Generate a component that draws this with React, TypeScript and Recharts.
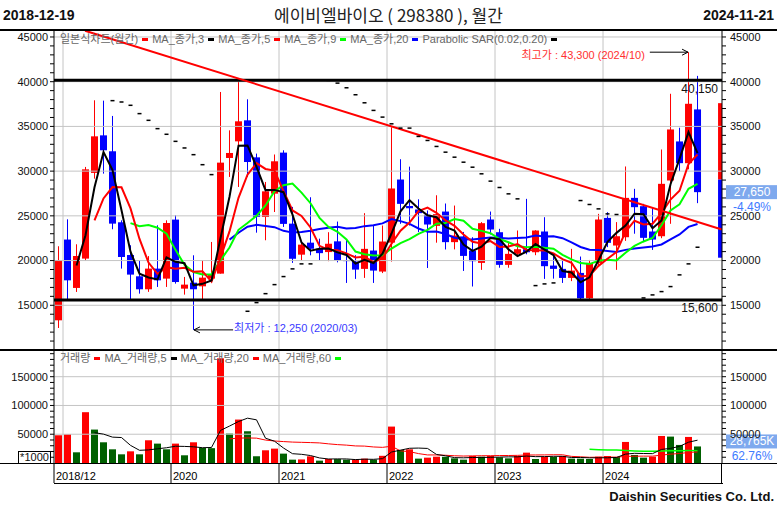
import {
  ComposedChart,
  Bar,
  Line,
  XAxis,
  YAxis,
  ReferenceLine,
  ReferenceArea,
  Cell,
} from "recharts";

const FONT = '"Liberation Sans", Arial, "Noto Sans CJK KR", sans-serif';
const RED = "#ff0000";
const BLUE = "#0000ff";
const VOL_GREEN = "#006000";
const GRID = "#c4c4c4";

// monthly bars 2018/12 .. 2024/11
const months = Array.from({ length: 72 }, (_, i) => {
  const k = 11 + i;
  return `${2018 + Math.floor(k / 12)}/${String((k % 12) + 1).padStart(2, "0")}`;
});

const opens = [
  13320, 22350, 16940, 20220, 29800, 34000, 32220, 24280, 20620, 18240,
  16790, 19100, 17980, 24580, 16860, 17530, 17120, 17980, 18540, 31470,
  33330, 35680, 31540, 24870, 27480, 32070, 24130, 20660, 22000, 21320,
  20950, 22150, 20050, 19890, 19070, 21120, 18770, 22010, 29060, 26100,
  25710, 25110, 23880, 25480, 22060, 22700, 21120, 19740, 24590, 23170,
  19520, 20750, 21270, 20930, 23250, 19440, 19070, 18060, 18620, 15780,
  19740, 24770, 21680, 22610, 27010, 26080, 23250, 22720, 28950, 33320,
  30890, 36900,
];
const highs = [
  21600, 24610, 21820, 30470, 37920, 37880, 36170, 24500, 21710, 20030,
  20500, 23940, 24500, 25060, 18170, 20590, 20030, 22080, 38850, 34560,
  40150, 38030, 31960, 28790, 31860, 32330, 26000, 22080, 27080, 22450,
  23170, 24360, 22300, 20600, 25300, 23990, 23920, 34900, 31330, 30500,
  26850, 25600, 27300, 26380, 26150, 23200, 22610, 24300, 25480, 23550,
  22070, 23360, 26900, 23400, 24850, 20590, 20000, 21310, 20450, 20070,
  25220, 25410, 24300, 30520, 28020, 26340, 25970, 32420, 38650, 34850,
  43300, 40650,
];
const lows = [
  12460, 15670, 16490, 19990, 29160, 29720, 23500, 19100, 15670, 16300,
  16500, 17050, 17050, 17420, 16190, 12250, 15670, 17600, 18540, 29350,
  28230, 29350, 23120, 22270, 25430, 23760, 19740, 20030, 20590, 20030,
  19930, 19800, 17500, 17950, 18060, 17500, 18600, 19890, 24110, 23920,
  23180, 19170, 22000, 21240, 21250, 18840, 17100, 18960, 22910, 19200,
  19200, 20500, 20700, 20600, 17950, 17980, 17500, 17700, 15600, 15600,
  19500, 21500, 18960, 22200, 23000, 22050, 21190, 22500, 24110, 30000,
  30200, 26420,
];
const closes = [
  20030, 17790, 20510, 30200, 33890, 32330, 24130, 20400, 18430, 16790,
  19100, 17790, 24200, 17600, 17310, 16790, 18090, 18430, 30950, 32030,
  35570, 31020, 24870, 27740, 31100, 24100, 20200, 21780, 21320, 20830,
  21880, 20020, 19980, 18990, 21310, 18880, 22130, 28060, 26340, 25850,
  25300, 24030, 25190, 22060, 22800, 20520, 19930, 24180, 23470, 19520,
  20750, 21270, 20930, 23360, 19370, 19070, 18060, 18880, 15780, 19740,
  24590, 21980, 22720, 27010, 25970, 22540, 22350, 28580, 34660, 30890,
  37530, 27650,
];
// volume in thousands of shares
const volumes = [
  48200, 50000, 18600, 88300, 58100, 36000, 23800, 15100, 20300, 15100,
  39500, 33700, 23800, 33700, 13400, 36000, 26100, 25800, 181900, 51100,
  75500, 55200, 11600, 22100, 25000, 16300, 5800, 6200, 11600, 4100,
  7000, 6800, 5800, 6000, 7600, 5800, 12500, 63300, 22600, 23800,
  7600, 9300, 11000, 10800, 8100, 5800, 12200, 11000, 12200, 9900,
  8100, 12200, 18000, 7000, 10500, 10400, 12200, 7600, 7500, 7000,
  11000, 12200, 10400, 36600, 14000, 9300, 11000, 47000, 45900, 31400,
  45300, 28765,
];
// parabolic SAR as drawn (null where no dash is visible)
const sar: (number | null)[] = [
  null, null, null, null, null, null, 37880, 37730, 37360, 36430,
  35680, 34750, 34120, 33330, 32590, 31840, 30720, 29610, null, null,
  null, 14330, 15300, 16300, 17310, 18210, 19070, 19630, 19630, null,
  40150, 39840, 39320, 38540, 37640, 36790, 36040, 35290, 34810, 34810,
  33880, 33430, 32760, 32120, 31560, 31000, 30440, 29700, 28880, 28170,
  27460, 26900, null, 17200, 17390, 17500, null, null, 26710, 26270,
  25780, 25220, 25150, null, null, 15820, 16160, 16530, 17090, 18400,
  19630, 21490,
];

const priceMajor = [15000, 20000, 25000, 30000, 35000, 40000, 45000];
const volMajor = [50000, 100000, 150000];
const yearStarts = [1, 13, 25, 37, 49, 61];
const xTickPos = [0, 13, 25, 37, 49, 61];
const xTickLabels = ["2018/12", "2020", "2021", "2022", "2023", "2024"];

const resistance = 40150;
const support = 15600;
const highMark = { month: 70, price: 43300, text: "최고가 : 43,300 (2024/10)" };
const lowMark = { month: 15, price: 12250, text: "최저가 : 12,250 (2020/03)" };
const trend = [
  { x: 3.45, y: 45700 },
  { x: 74.2, y: 23480 },
];
const sideBar = { top: 37600, mid: 29050, bottom: 20320 };
const lastChange = "-4.49%";
const volRatio = "62.76%";

const P_MIN = 10000;
const P_MAX = 45780;
const V_MAX = 196400;
const X_MAX = 74.22;

const movingAvg = (src: number[], n: number) =>
  src.map((_, i) =>
    i < n - 1 ? null : src.slice(i - n + 1, i + 1).reduce((a, b) => a + b, 0) / n
  );

const ma3 = movingAvg(closes, 3);
const ma5 = movingAvg(closes, 5);
const ma9 = movingAvg(closes, 9);
const ma20 = movingAvg(closes, 20);
const vma5 = movingAvg(volumes, 5);
const vma20 = movingAvg(volumes, 20);
const vma60 = movingAvg(volumes, 60);

const rows = months.map((m, i) => ({
  x: i + 0.5,
  month: m,
  open: opens[i],
  high: highs[i],
  low: lows[i],
  close: closes[i],
  range: [lows[i], highs[i]],
  ma3: ma3[i],
  ma5: ma5[i],
  ma9: ma9[i],
  ma20: ma20[i],
  sar: sar[i],
  vol: volumes[i],
  vma5: vma5[i],
  vma20: vma20[i],
  vma60: vma60[i],
}));

const priceTicks = Array.from({ length: 35 }, (_, i) => 11000 + i * 1000);
const volTicks = Array.from({ length: 19 }, (_, i) => 10000 + i * 10000);

function Candle(props: any) {
  const { x, y, width, height, payload } = props;
  if (payload == null || x == null) return <g />;
  const top = Math.min(y, y + height);
  const h = Math.abs(height);
  const { open, close, high, low } = payload;
  const k = high > low ? h / (high - low) : 0;
  const color = close >= open ? RED : BLUE;
  const bodyTop = top + (high - Math.max(open, close)) * k;
  const bodyH = Math.max(1, Math.abs(close - open) * k);
  const cx = x + width / 2;
  return (
    <g>
      <line x1={cx} x2={cx} y1={top} y2={top + h} stroke={color} strokeWidth={1} />
      <rect x={x} y={bodyTop} width={width} height={bodyH} fill={color} />
    </g>
  );
}

function SarDot(props: any) {
  const { cx, cy, payload, index } = props;
  if (cy == null || payload == null || payload.sar == null) return <g key={index} />;
  return <rect key={index} x={cx - 2} y={cy - 0.75} width={4} height={1.5} fill="#000" />;
}

const makeArrow = (text: string, color: string, textLeft: boolean) => (p: any) => {
  const { x1, y1, x2, y2 } = p;
  const dir = x2 > x1 ? 1 : -1;
  return (
    <g>
      <line x1={x1} y1={y1} x2={x2} y2={y2} stroke="#000" strokeWidth={1} />
      <polyline
        points={`${x2 - dir * 6},${y2 - 3} ${x2},${y2} ${x2 - dir * 6},${y2 + 3}`}
        fill="none"
        stroke="#000"
        strokeWidth={1}
      />
      <text
        x={textLeft ? x1 - 5 : x1 + 1}
        y={textLeft ? y1 + 7 : y1 + 2}
        textAnchor={textLeft ? "end" : "start"}
        fontSize={11}
        fontFamily={FONT}
        fill={color}
      >
        {text}
      </text>
    </g>
  );
};

const sideTag = (main: string, sub: string, dy: number) => (props: any) => {
  const vb = props.viewBox;
  if (!vb) return <g />;
  const x = vb.x + vb.width + 4;
  const y = vb.y + dy;
  return (
    <g fontFamily={FONT} fontSize={12}>
      <rect x={x} y={y - 7} width={51} height={14} fill="#7ea9ee" />
      <text x={x + 26} y={y + 4} textAnchor="middle" fill="#fff">
        {main}
      </text>
      <text x={x + 26} y={y + 19} textAnchor="middle" fill="#3f7bff">
        {sub}
      </text>
    </g>
  );
};

function YearTick(props: any) {
  const { x, y, payload } = props;
  const idx = xTickPos.indexOf(payload.value);
  return (
    <g>
      <line x1={x} x2={x} y1={y} y2={y + 20} stroke="#000" strokeWidth={1} />
      <text x={x + 2} y={y + 17} fontSize={11} fontFamily={FONT} fill="#000">
        {xTickLabels[idx]}
      </text>
    </g>
  );
}

const legendPrice = [
  { label: "일본식차트(월간)", color: RED },
  { label: "MA_종가,3", color: "#000" },
  { label: "MA_종가,5", color: RED },
  { label: "MA_종가,9", color: "#00ff00" },
  { label: "MA_종가,20", color: BLUE },
  { label: "Parabolic SAR(0.02,0.20)", color: "#000" },
];
const legendVol = [
  { label: "거래량", color: RED },
  { label: "MA_거래량,5", color: "#000" },
  { label: "MA_거래량,20", color: RED },
  { label: "MA_거래량,60", color: "#00ff00" },
];

function LegendRow({ items, top }: { items: { label: string; color: string }[]; top: number }) {
  return (
    <div
      style={{
        position: "absolute",
        left: 60,
        top,
        display: "flex",
        alignItems: "center",
        fontSize: 11,
        lineHeight: "12px",
        color: "#666",
        fontFamily: FONT,
        whiteSpace: "nowrap",
      }}
    >
      {items.map((it) => (
        <span key={it.label} style={{ display: "flex", alignItems: "center" }}>
          {it.label}
          <span
            style={{ display: "inline-block", width: 6, height: 3, background: it.color, margin: "0 4px" }}
          />
        </span>
      ))}
    </div>
  );
}

const axisTick = { fontSize: 11, fill: "#111", fontFamily: FONT };
const hLine = (top: number, left: number, width: number, h = 1) => (
  <div style={{ position: "absolute", top, left, width, height: h, background: "#000" }} />
);

export default function App() {
  return (
    <div
      style={{
        position: "absolute",
        left: 0,
        top: 0,
        width: 777,
        height: 508,
        background: "#fff",
        overflow: "hidden",
        fontFamily: FONT,
      }}
    >
      <div style={{ position: "absolute", left: 0, top: 0 }}>
        <ComposedChart width={777} height={350} data={rows} margin={{ top: 30, right: 0, bottom: 0, left: 0 }}>
          <XAxis type="number" dataKey="x" domain={[0, X_MAX]} allowDataOverflow hide />
          <YAxis
            yAxisId="p"
            orientation="left"
            width={54}
            domain={[P_MIN, P_MAX]}
            allowDataOverflow
            ticks={priceTicks}
            interval={0}
            tickFormatter={(v) => (v % 5000 === 0 ? String(v) : "")}
            tick={axisTick}
            tickSize={4}
            tickMargin={2}
            axisLine={{ stroke: "#000" }}
            tickLine={{ stroke: "#000" }}
          />
          <YAxis
            yAxisId="pr"
            orientation="right"
            width={55}
            domain={[P_MIN, P_MAX]}
            allowDataOverflow
            ticks={priceTicks}
            interval={0}
            tickFormatter={(v) => (v % 5000 === 0 ? String(v) : "")}
            tick={axisTick}
            tickSize={4}
            tickMargin={4}
            axisLine={{ stroke: "#000" }}
            tickLine={{ stroke: "#000" }}
          />
          {priceMajor.map((v) => (
            <ReferenceLine key={`pg${v}`} yAxisId="p" y={v} stroke={GRID} />
          ))}
          {yearStarts.map((v) => (
            <ReferenceLine key={`px${v}`} yAxisId="p" x={v} stroke={GRID} />
          ))}
          <ReferenceLine
            yAxisId="p"
            y={resistance}
            stroke="#000"
            strokeWidth={3}
            label={{ value: "40,150", position: "insideTopRight", offset: 4, fontSize: 12, fill: "#111" }}
          />
          <ReferenceLine
            yAxisId="p"
            y={support}
            stroke="#000"
            strokeWidth={3}
            label={{ value: "15,600", position: "insideTopRight", offset: 4, fontSize: 12, fill: "#111" }}
          />
          <Bar yAxisId="p" dataKey="range" barSize={7} shape={(p: any) => <Candle {...p} />} isAnimationActive={false} />
          <Line yAxisId="p" dataKey="ma20" stroke={BLUE} strokeWidth={2} dot={false} isAnimationActive={false} />
          <Line yAxisId="p" dataKey="ma9" stroke="#00ff00" strokeWidth={2} dot={false} isAnimationActive={false} />
          <Line yAxisId="p" dataKey="ma5" stroke={RED} strokeWidth={2} dot={false} isAnimationActive={false} />
          <Line yAxisId="p" dataKey="ma3" stroke="#000" strokeWidth={2} dot={false} isAnimationActive={false} />
          <Line
            yAxisId="p"
            dataKey="sar"
            stroke="none"
            dot={(p: any) => <SarDot key={p.index} {...p} />}
            activeDot={false}
            isAnimationActive={false}
          />
          <ReferenceLine
            yAxisId="p"
            segment={trend}
            stroke={RED}
            strokeWidth={2}
          />
          <ReferenceLine
            yAxisId="p"
            segment={[
              { x: 66.2, y: highMark.price },
              { x: highMark.month + 0.45, y: highMark.price },
            ]}
            shape={makeArrow(highMark.text, "#ff3030", true)}
          />
          <ReferenceLine
            yAxisId="p"
            segment={[
              { x: 19.9, y: lowMark.price },
              { x: lowMark.month + 0.55, y: lowMark.price },
            ]}
            shape={makeArrow(lowMark.text, "#3a3aff", false)}
          />
          <ReferenceArea
            yAxisId="p"
            x1={73.78}
            x2={X_MAX}
            y1={sideBar.mid}
            y2={sideBar.top}
            fill={RED}
            fillOpacity={1}
            stroke="none"
          />
          <ReferenceArea
            yAxisId="p"
            x1={73.78}
            x2={X_MAX}
            y1={sideBar.bottom}
            y2={sideBar.mid}
            fill={BLUE}
            fillOpacity={1}
            stroke="none"
          />
          <ReferenceLine
            yAxisId="p"
            y={closes[closes.length - 1]}
            stroke="none"
            label={sideTag("27,650", lastChange, 0)}
          />
        </ComposedChart>
      </div>

      <div style={{ position: "absolute", left: 0, top: 0 }}>
        <ComposedChart width={777} height={483} data={rows} margin={{ top: 350, right: 0, bottom: 0, left: 0 }}>
          <XAxis
            type="number"
            dataKey="x"
            domain={[0, X_MAX]}
            allowDataOverflow
            ticks={xTickPos}
            interval={0}
            height={20}
            tickSize={0}
            tickMargin={0}
            axisLine={false}
            tickLine={false}
            tick={(p: any) => <YearTick {...p} />}
          />
          <YAxis
            yAxisId="v"
            orientation="left"
            width={54}
            domain={[0, V_MAX]}
            allowDataOverflow
            ticks={volTicks}
            interval={0}
            tickFormatter={(v) => (v % 50000 === 0 ? String(v) : "")}
            tick={axisTick}
            tickSize={4}
            tickMargin={2}
            axisLine={{ stroke: "#000" }}
            tickLine={{ stroke: "#000" }}
          />
          <YAxis
            yAxisId="vr"
            orientation="right"
            width={55}
            domain={[0, V_MAX]}
            allowDataOverflow
            ticks={volTicks}
            interval={0}
            tickFormatter={(v) => (v % 50000 === 0 ? String(v) : "")}
            tick={axisTick}
            tickSize={4}
            tickMargin={4}
            axisLine={{ stroke: "#000" }}
            tickLine={{ stroke: "#000" }}
          />
          {volMajor.map((v) => (
            <ReferenceLine key={`vg${v}`} yAxisId="v" y={v} stroke={GRID} />
          ))}
          {yearStarts.map((v) => (
            <ReferenceLine key={`vx${v}`} yAxisId="v" x={v} stroke={GRID} />
          ))}
          <Bar yAxisId="v" dataKey="vol" barSize={7} isAnimationActive={false}>
            {rows.map((r, i) => (
              <Cell key={r.month} fill={i === 0 || volumes[i] > volumes[i - 1] ? RED : VOL_GREEN} />
            ))}
          </Bar>
          <Line yAxisId="v" dataKey="vma60" stroke="#00ff00" strokeWidth={1.5} dot={false} isAnimationActive={false} />
          <Line yAxisId="v" dataKey="vma20" stroke={RED} strokeWidth={1} dot={false} isAnimationActive={false} />
          <Line yAxisId="v" dataKey="vma5" stroke="#000" strokeWidth={1} dot={false} isAnimationActive={false} />
          <ReferenceLine
            yAxisId="v"
            y={volumes[volumes.length - 1]}
            stroke="none"
            label={sideTag("28,765K", volRatio, -5)}
          />
        </ComposedChart>
      </div>

      {/* frame */}
      {hLine(29, 0, 777, 2)}
      {hLine(349, 0, 777, 2)}
      {hLine(463, 0, 777, 1)}
      {hLine(483, 54, 669, 1)}
      <div style={{ position: "absolute", left: 721, top: 463, width: 1, height: 21, background: "#000" }} />

      {/* title row */}
      <div style={{ position: "absolute", left: 3, top: 7, fontSize: 14, fontWeight: "bold", color: "#111" }}>
        2018-12-19
      </div>
      <div
        style={{
          position: "absolute",
          left: 0,
          width: 777,
          top: 4,
          textAlign: "center",
          fontSize: 17,
          color: "#222",
          fontFamily: '"Noto Sans CJK KR", sans-serif',
          lineHeight: "22px",
        }}
      >
        에이비엘바이오 ( 298380 ), 월간
      </div>
      <div style={{ position: "absolute", right: 3, top: 7, fontSize: 14, fontWeight: "bold", color: "#111" }}>
        2024-11-21
      </div>

      <LegendRow items={legendPrice} top={33} />
      <LegendRow items={legendVol} top={352} />

      <div
        style={{
          position: "absolute",
          left: 18,
          top: 451,
          width: 31,
          height: 11,
          border: "1px solid #000",
          fontSize: 11,
          lineHeight: "11px",
          textAlign: "center",
          background: "#fff",
          color: "#111",
        }}
      >
        *1000
      </div>

      <div
        style={{
          position: "absolute",
          right: 3,
          top: 489,
          fontSize: 13,
          fontWeight: "bold",
          color: "#111",
        }}
      >
        Daishin Securities Co. Ltd.
      </div>
    </div>
  );
}
